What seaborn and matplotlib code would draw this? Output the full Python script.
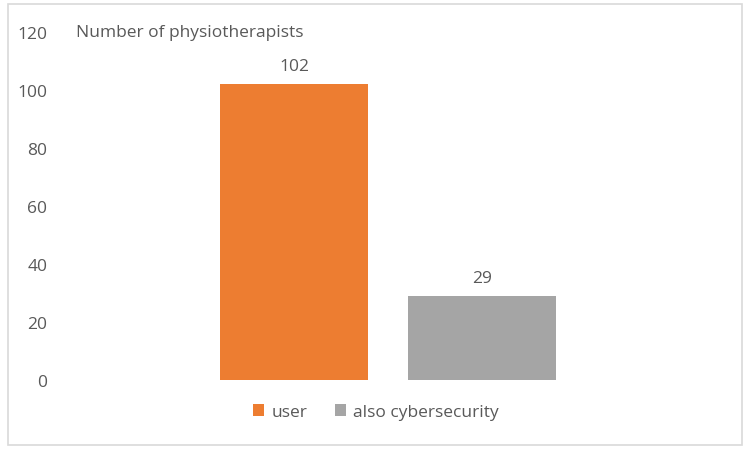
import matplotlib
matplotlib.use("Agg")
import matplotlib.pyplot as plt
import seaborn as sns
import pandas as pd
from matplotlib.patches import Rectangle

series = ["user", "also cybersecurity"]
values = [102, 29]
colors = ["#ED7D31", "#A5A5A5"]
yticks = [0, 20, 40, 60, 80, 100, 120]
title = "Number of physiotherapists"

sns.set_theme(style="white")
plt.rcParams['font.family'] = ['Open Sans', 'DejaVu Sans']
text_color = "#595959"
fs = 12.5

df = pd.DataFrame({"cat": [""] * len(series), "series": series, "value": values})

fig = plt.figure(figsize=(7.5, 4.6), dpi=100)
ax = fig.add_axes([60 / 750, 1 - 381 / 460, 656 / 750, (381 - 33) / 460])

sns.barplot(data=df, x="cat", y="value", hue="series", palette=colors,
            width=0.573, gap=0.213, ax=ax, legend=True, saturation=1,
            linewidth=0)

ax.set_ylim(0, 120)
ax.set_xlim(-0.5, 0.5)
ax.set_yticks(yticks)
ax.set_yticklabels([str(t) for t in yticks], fontsize=fs, color=text_color)
ax.tick_params(axis='y', length=0, pad=9)
ax.set_xticks([])
ax.set_xlabel("")
ax.set_ylabel("")
for s in ax.spines.values():
    s.set_visible(False)

for c in ax.containers:
    ax.bar_label(c, padding=7, fontsize=fs, color=text_color)

ax.text(76 / 750, 1 - 33 / 460, title, transform=fig.transFigure,
        fontsize=fs, color=text_color, va="center", ha="left")

leg = ax.legend(loc="center", bbox_to_anchor=(376 / 750, 1 - 413 / 460),
                bbox_transform=fig.transFigure, ncol=2, frameon=False,
                fontsize=fs, handlelength=0.65, handleheight=0.65,
                columnspacing=1.6, handletextpad=0.4)
for t in leg.get_texts():
    t.set_color(text_color)

fig.patches.append(Rectangle((8 / 750, 1 - 446 / 460), 734 / 750, 441 / 460,
                             transform=fig.transFigure, fill=False,
                             edgecolor="#D9D9D9", linewidth=1.2))

fig.savefig("out.png", dpi=100)
